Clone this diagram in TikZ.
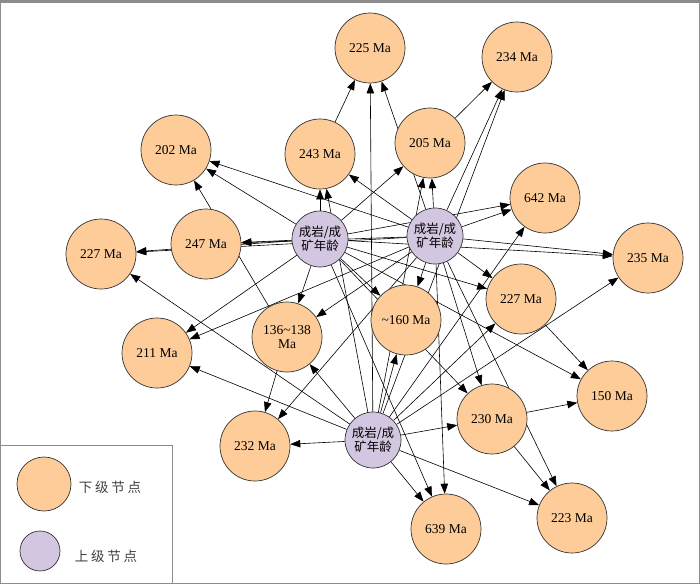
\documentclass[tikz,border=0pt]{standalone}
\usepackage{fontspec}
\setmainfont{Liberation Serif}
\newfontfamily\cjk{Noto Sans CJK SC}
\newfontfamily\cjkwide{Noto Sans CJK SC}[LetterSpace=20]
\usetikzlibrary{arrows.meta,backgrounds}

\begin{document}
\begin{tikzpicture}[x=1pt,y=-1pt,
	lowage/.style={circle,draw=black!80,fill=lowfill,line width=0.7pt,minimum size=70pt,inner sep=0pt,align=center,font=\fontsize{13.5}{14}\selectfont},
	upage/.style={circle,draw=black!80,fill=upfill,line width=0.7pt,minimum size=56pt,inner sep=0pt,align=center,font=\cjk\fontsize{12.5}{14}\selectfont},
	link/.style={-{Triangle[length=10pt,width=7.5pt]},line width=0.6pt}]
	\definecolor{lowfill}{RGB}{253,204,153}
	\definecolor{upfill}{RGB}{211,198,224}
	\useasboundingbox (0,0) rectangle (700,584);
	% frame and legend box
	\draw[black!45] (0.5,0.5) rectangle (699.5,583.5);
	\draw[black!45,line width=3pt] (0,1.5) -- (700,1.5);
	\draw[black!45] (0,445) -- (172,445) -- (172,584);
	% upper level nodes
	\node[upage] (u1) at (320,239) {成岩/成\\矿年龄};
	\node[upage] (u2) at (435,236) {成岩/成\\矿年龄};
	\node[upage] (u3) at (373,440) {成岩/成\\矿年龄};
	% lower level nodes
	\node[lowage] (m225) at (370,48) {225 Ma};
	\node[lowage] (m234) at (517,57) {234 Ma};
	\node[lowage] (m205) at (430,143) {205 Ma};
	\node[lowage] (m243) at (320,154) {243 Ma};
	\node[lowage] (m202) at (176,150) {202 Ma};
	\node[lowage] (m247) at (206,244) {247 Ma};
	\node[lowage] (m227a) at (101,254) {227 Ma};
	\node[lowage] (m642) at (545,198) {642 Ma};
	\node[lowage] (m235) at (648,258) {235 Ma};
	\node[lowage] (m227b) at (521,299) {227 Ma};
	\node[lowage] (m160) at (406,320) {\textasciitilde160 Ma};
	\node[lowage] (m136) at (287,337) {136\textasciitilde138\\Ma};
	\node[lowage] (m211) at (157,353) {211 Ma};
	\node[lowage] (m150) at (612,396) {150 Ma};
	\node[lowage] (m232) at (255,446) {232 Ma};
	\node[lowage] (m230) at (492,419) {230 Ma};
	\node[lowage] (m639) at (446,529) {639 Ma};
	\node[lowage] (m223) at (572,518) {223 Ma};
	% connectors behind the nodes
	\begin{scope}[on background layer]
		\foreach \b in {m243,m202,m247,m227a,m211,m136,m160,m205,m642,m235,m227b,m150,m230,m639}
			\draw[link] (u1) -- (\b);
		\foreach \b in {m225,m234,m205,m243,m202,m247,m227a,m211,m136,m232,m160,m642,m235,m227b,m230,m223,m639}
			\draw[link] (u2) -- (\b);
		\foreach \b in {m225,m234,m205,m243,m227a,m211,m136,m232,m160,m230,m223,m639,m227b,m642,m235}
			\draw[link] (u3) -- (\b);
		\foreach \a/\b in {m243/m225,m205/m234,m136/m202,m136/m232,m227b/m150,m230/m150,m230/m223}
			\draw[link] (\a) -- (\b);
	\end{scope}
	% legend
	\node[lowage,minimum size=54pt] (lglow) at (44,484) {};
	\node[upage,minimum size=40pt] (lgup) at (40,551) {};
	\node[font=\cjkwide\fontsize{13.5}{14}\selectfont,text=black!75] (lglowtext) at (110,487) {下级节点};
	\node[font=\cjkwide\fontsize{13.5}{14}\selectfont,text=black!75] (lguptext) at (106,556) {上级节点};
\end{tikzpicture}
\end{document}
